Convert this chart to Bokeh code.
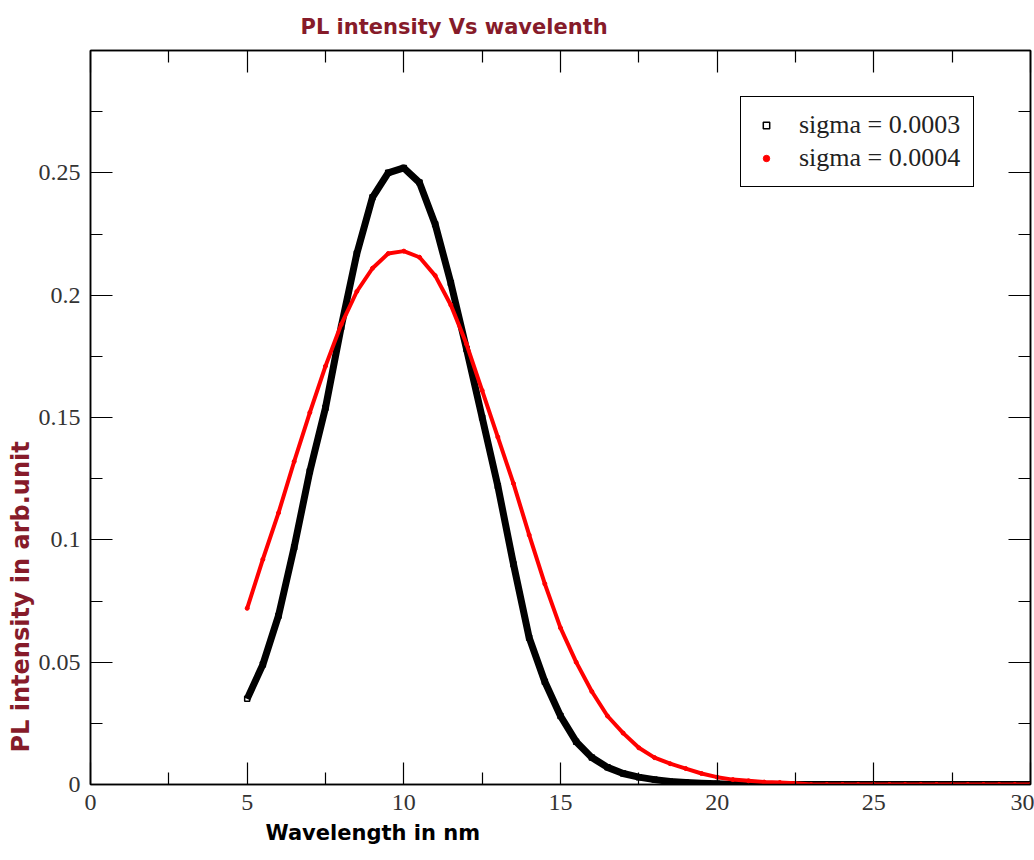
from bokeh.plotting import figure
from bokeh.models import (LinearAxis, FixedTicker, Range1d, Title, Legend, LegendItem)
from bokeh.embed import file_html
from bokeh.resources import INLINE

# ---------------- data ----------------
wavelength = [5.0, 5.5, 6.0, 6.5, 7.0, 7.5, 8.0, 8.5, 9.0, 9.5,
              10.0, 10.5, 11.0, 11.5, 12.0, 12.5, 13.0, 13.5, 14.0, 14.5,
              15.0, 15.5, 16.0, 16.5, 17.0, 17.5, 18.0, 18.5, 19.0, 19.5,
              20.0, 20.5, 21.0, 21.5, 22.0, 22.5, 23.0, 23.5, 24.0, 24.5,
              25.0, 25.5, 26.0, 26.5, 27.0, 27.5, 28.0, 28.5, 29.0, 29.5, 30.0]

sigma_0003 = [0.035, 0.049, 0.069, 0.097, 0.128, 0.154, 0.187, 0.217, 0.240, 0.250,
              0.252, 0.246, 0.229, 0.205, 0.178, 0.150, 0.122, 0.090, 0.060, 0.042,
              0.028, 0.0175, 0.011, 0.007, 0.0045, 0.003, 0.002, 0.0012, 0.0008, 0.0005,
              0.0003, 0.0, 0.0, 0.0, 0.0, 0.0, 0.0, 0.0, 0.0, 0.0,
              0.0, 0.0, 0.0, 0.0, 0.0, 0.0, 0.0, 0.0, 0.0, 0.0, 0.0]

sigma_0004 = [0.072, 0.092, 0.111, 0.132, 0.152, 0.171, 0.188, 0.2015, 0.211, 0.217,
              0.218, 0.2155, 0.208, 0.196, 0.180, 0.161, 0.142, 0.123, 0.102, 0.082,
              0.064, 0.050, 0.038, 0.028, 0.021, 0.015, 0.011, 0.0085, 0.0065, 0.0045,
              0.003, 0.002, 0.0015, 0.001, 0.0008, 0.0005, 0.0, 0.0, 0.0, 0.0,
              0.0, 0.0, 0.0, 0.0, 0.0, 0.0, 0.0, 0.0, 0.0, 0.0, 0.0]

series_labels = ["sigma = 0.0003", "sigma = 0.0004"]

x_ticks = [0, 5, 10, 15, 20, 25, 30]
x_minor = [2.5, 7.5, 12.5, 17.5, 22.5, 27.5]
y_ticks = [0, 0.05, 0.1, 0.15, 0.2, 0.25]
y_minor = [0.025, 0.075, 0.125, 0.175, 0.225, 0.275]
y_tick_labels = ["0", "0.05", "0.1", "0.15", "0.2", "0.25"]

title_text = "PL intensity Vs wavelenth"
x_label = "Wavelength in nm"
y_label = "PL intensity in arb.unit"

# ---------------- figure ----------------
W, H = 1034, 860
p = figure(width=W, height=H, output_backend="svg", toolbar_location=None,
           x_range=Range1d(0, 30), y_range=Range1d(0, 0.3),
           x_axis_location=None, y_axis_location=None,
           min_border_left=90, min_border_right=4, min_border_top=50, min_border_bottom=76)
p.background_fill_color = "white"
p.border_fill_color = "white"
p.grid.visible = False
p.outline_line_color = "black"
p.outline_line_width = 1.5

label_font = "Liberation Serif"
label_color = "#333333"

def make_axis(ticks, minor, show_labels, overrides=None):
    ax = LinearAxis(ticker=FixedTicker(ticks=ticks, minor_ticks=minor))
    ax.axis_line_color = "black"
    ax.axis_line_width = 1.5
    ax.major_tick_in = 22
    ax.major_tick_out = 0
    ax.minor_tick_in = 12
    ax.minor_tick_out = 0
    ax.major_tick_line_color = "black"
    ax.minor_tick_line_color = "black"
    ax.major_tick_line_width = 1.2
    ax.minor_tick_line_width = 1.2
    if show_labels:
        ax.major_label_text_font = label_font
        ax.major_label_text_font_size = "24px"
        ax.major_label_text_color = label_color
        ax.major_label_standoff = 10
        if overrides:
            ax.major_label_overrides = overrides
    else:
        ax.major_label_overrides = {tk: "" for tk in ticks}
        ax.major_label_text_font_size = "1px"
        ax.major_label_standoff = 0
    return ax

xb = make_axis(x_ticks, x_minor, True)
yl = make_axis(y_ticks, y_minor, True,
               {tk: s for tk, s in zip(y_ticks, y_tick_labels)})
xt = make_axis(x_ticks, x_minor, False)
yr = make_axis(y_ticks, y_minor, False)
p.add_layout(xb, "below")
p.add_layout(yl, "left")
p.add_layout(xt, "above")
p.add_layout(yr, "right")

# titles / axis labels
dark_red = "#861b2a"
t = Title(text=title_text, align="left", offset=210, standoff=23,
          text_font="DejaVu Sans", text_font_size="21px", text_font_style="bold",
          text_color=dark_red)
p.add_layout(t, "above")

xl = Title(text=x_label, align="left", offset=175, standoff=12,
           text_font="DejaVu Sans", text_font_size="21px", text_font_style="bold",
           text_color="black")
p.add_layout(xl, "below")

yll = Title(text=y_label, align="left", offset=32, standoff=2,
            text_font="DejaVu Sans", text_font_size="24px", text_font_style="bold",
            text_color=dark_red)
p.add_layout(yll, "left")

# curves
s1 = p.scatter(wavelength, sigma_0003, marker="square", size=5,
               line_color="black", fill_color=None, line_width=1.5)
p.line(wavelength, sigma_0003, line_color="black", line_width=7, line_join="round")
s2 = p.scatter(wavelength, sigma_0004, marker="circle", size=4,
               line_color="red", fill_color="red")
p.line(wavelength, sigma_0004, line_color="red", line_width=4, line_join="round")

legend = Legend(items=[LegendItem(label=series_labels[0], renderers=[s1]),
                       LegendItem(label=series_labels[1], renderers=[s2])],
                location=(650, 597))
legend.border_line_color = "black"
legend.border_line_alpha = 1.0
legend.border_line_width = 1.5
legend.label_text_font = label_font
legend.label_text_font_size = "26px"
legend.label_text_color = "#222222"
legend.label_height = 30
legend.label_standoff = 21
legend.glyph_width = 24
legend.glyph_height = 16
legend.spacing = 3
legend.padding = 13
legend.margin = 0
p.add_layout(legend, "center")

open("out.html", "w").write(file_html(p, INLINE))
